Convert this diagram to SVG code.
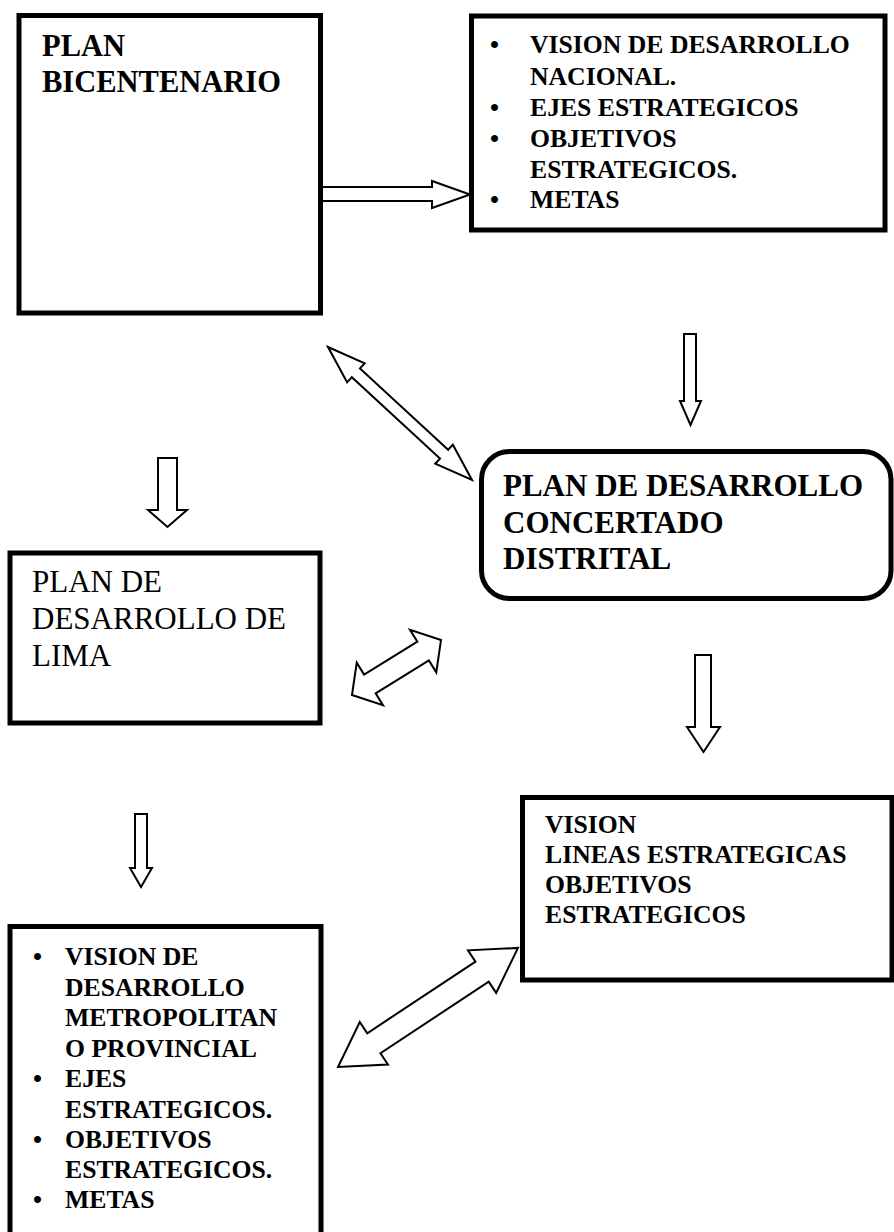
<svg xmlns="http://www.w3.org/2000/svg" width="894" height="1232" viewBox="0 0 894 1232">
  <style>
    .box { fill: #ffffff; stroke: #000000; stroke-width: 5; }
    .arrow { fill: #ffffff; stroke: #000000; stroke-width: 2; stroke-linejoin: miter; }
    .t { font-family: "Liberation Serif", "Times New Roman", serif; fill: #000000; }
    .b { font-weight: bold; }
    .big { font-size: 31px; }
    .mid { font-size: 25.7px; }
  </style>
  <rect width="894" height="1232" fill="#ffffff"/>

  <!-- connectors -->
  <g id="connectors">
    <!-- plan bicentenario -> objectives list -->
    <polygon class="arrow" points="322,187 432,187 432,181 470,194.5 432,208 432,201 322,201"/>
    <!-- bicentenario <-> concertado -->
    <polygon class="arrow" transform="translate(328,347) rotate(42.73)"
             points="0,0 38,-13 38,-6 158,-6 158,-13 196,0 158,13 158,6 38,6 38,13"/>
    <!-- objectives list -> concertado -->
    <polygon class="arrow" points="684,334 696,334 696,401 701,401 690.5,425 680,401 684,401"/>
    <!-- bicentenario -> lima -->
    <polygon class="arrow" points="158,458 177,458 177,510 187,510 167.5,527 148,510 158,510"/>
    <!-- lima <-> concertado -->
    <polygon class="arrow" transform="translate(352,695) rotate(-31.7)"
             points="0,0 21,-25 21,-11 83.6,-11 83.6,-25 104.6,0 83.6,25 83.6,11 21,11 21,25"/>
    <!-- concertado -> vision -->
    <polygon class="arrow" points="695,655 711,655 711,727 720,727 703.5,752 687,727 695,727"/>
    <!-- lima -> metropolitan list -->
    <polygon class="arrow" points="135,814 147,814 147,868 152,868 141,887 130,868 135,868"/>
    <!-- metropolitan list <-> vision -->
    <polygon class="arrow" transform="translate(338,1067) rotate(-33.5)"
             points="0,0 43,-25.5 43,-12 172.8,-12 172.8,-25.5 215.8,0 172.8,25.5 172.8,12 43,12 43,25.5"/>
  </g>

  <g id="plan-bicentenario">
    <rect class="box" x="19" y="15.5" width="301.5" height="297.5"/>
    <text class="t b" font-size="30.5" x="42" y="56">PLAN</text>
    <text class="t b" font-size="30.5" x="42" y="92">BICENTENARIO</text>
  </g>

  <g id="nacional-list">
    <rect class="box" x="471.5" y="16" width="413.5" height="214"/>
    <g class="t b mid">
      <text x="490" y="53">•</text>
      <text x="530" y="53">VISION DE DESARROLLO</text>
      <text x="530" y="85">NACIONAL.</text>
      <text x="490" y="116">•</text>
      <text x="530" y="116">EJES ESTRATEGICOS</text>
      <text x="490" y="147">•</text>
      <text x="530" y="147">OBJETIVOS</text>
      <text x="530" y="178">ESTRATEGICOS.</text>
      <text x="490" y="208">•</text>
      <text x="530" y="208">METAS</text>
    </g>
  </g>

  <g id="plan-concertado">
    <rect class="box" x="481.5" y="451.5" width="409.5" height="147" rx="28" ry="28"/>
    <text class="t b big" x="503" y="496">PLAN DE DESARROLLO</text>
    <text class="t b big" x="503" y="533">CONCERTADO</text>
    <text class="t b big" x="503" y="569">DISTRITAL</text>
  </g>

  <g id="plan-lima">
    <rect class="box" x="10" y="553" width="310" height="170"/>
    <text class="t big" x="32" y="592">PLAN DE</text>
    <text class="t big" x="32" y="629">DESARROLLO DE</text>
    <text class="t big" x="32" y="666">LIMA</text>
  </g>

  <g id="vision-lineas">
    <rect class="box" x="522.5" y="797.5" width="369.5" height="182.5"/>
    <g class="t b mid">
      <text x="545" y="833">VISION</text>
      <text x="545" y="863">LINEAS ESTRATEGICAS</text>
      <text x="545" y="893">OBJETIVOS</text>
      <text x="545" y="923">ESTRATEGICOS</text>
    </g>
  </g>

  <g id="metropolitano-list">
    <rect class="box" x="10" y="926.5" width="311" height="400"/>
    <g class="t b mid">
      <text x="33" y="965">•</text>
      <text x="65" y="965">VISION DE</text>
      <text x="65" y="995.5">DESARROLLO</text>
      <text x="65" y="1026">METROPOLITAN</text>
      <text x="65" y="1056.5">O PROVINCIAL</text>
      <text x="33" y="1087">•</text>
      <text x="65" y="1087">EJES</text>
      <text x="65" y="1117.5">ESTRATEGICOS.</text>
      <text x="33" y="1148">•</text>
      <text x="65" y="1148">OBJETIVOS</text>
      <text x="65" y="1178">ESTRATEGICOS.</text>
      <text x="33" y="1208">•</text>
      <text x="65" y="1208">METAS</text>
    </g>
  </g>
</svg>
